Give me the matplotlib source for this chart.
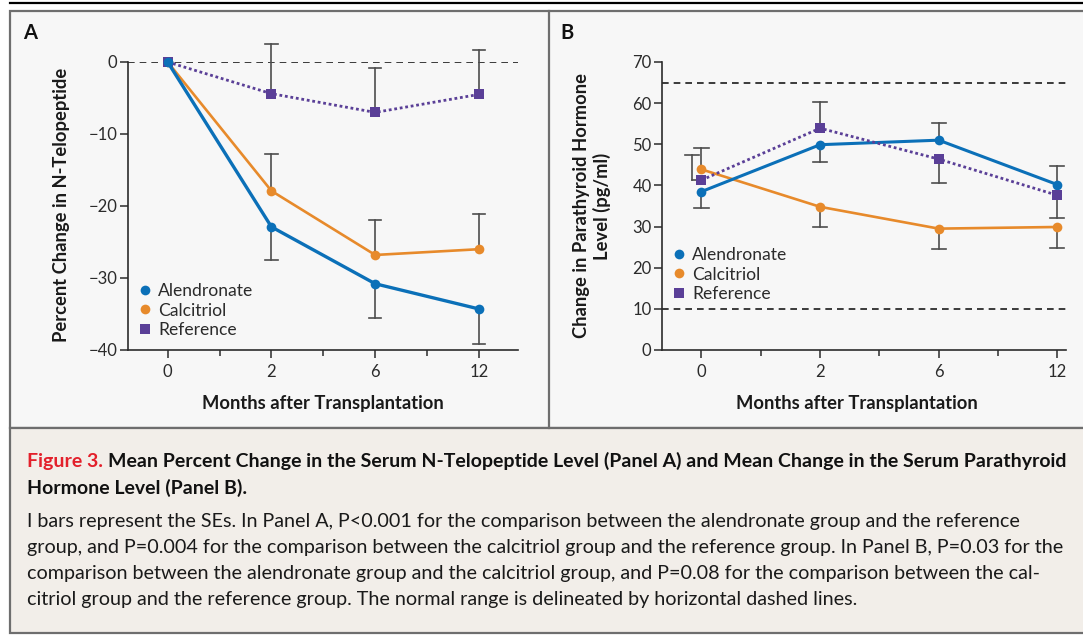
import matplotlib
matplotlib.use("Agg")
import matplotlib.pyplot as plt
from matplotlib.patches import Rectangle
from matplotlib.lines import Line2D

# ---------------- data ----------------
months = ["0", "2", "6", "12"]
series_names = ["Alendronate", "Calcitriol", "Reference"]

# Panel A: percent change in N-telopeptide
a_alendronate = [0.0, -22.9, -30.8, -34.3]
a_alendronate_se = [0.0, 4.6, 4.7, 4.8]
a_alendronate_dir = [0, -1, -1, -1]
a_calcitriol = [0.0, -17.9, -26.8, -26.0]
a_calcitriol_se = [0.0, 5.1, 4.9, 4.9]
a_calcitriol_dir = [0, 1, 1, 1]
a_reference = [0.0, -4.4, -7.0, -4.5]
a_reference_se = [0.0, 6.9, 6.1, 6.2]
a_reference_dir = [0, 1, 1, 1]

# Panel B: change in parathyroid hormone (pg/ml)
b_alendronate = [38.5, 49.9, 51.0, 40.2]
b_alendronate_se = [4.0, 4.1, 4.2, 4.6]
b_alendronate_dir = [-1, -1, 1, 1]
b_calcitriol = [43.9, 34.8, 29.5, 29.9]
b_calcitriol_se = [5.1, 5.0, 4.9, 5.1]
b_calcitriol_dir = [1, -1, -1, -1]
b_reference = [41.3, 53.9, 46.4, 37.6]
b_reference_se = [6.0, 6.4, 5.8, 5.6]
b_reference_dir = [1, 1, -1, -1]

a_yticks = [0, -10, -20, -30, -40]
b_yticks = [0, 10, 20, 30, 40, 50, 60, 70]
b_normal_range = [10, 65]

# ---------------- style ----------------
FONT = ["Lato", "DejaVu Sans"]
plt.rcParams["font.family"] = FONT
BLUE = "#0b70b8"
ORANGE = "#e78a2b"
PURPLE = "#5a3f97"
ERR = "#4d4d4d"
W, H = 1083, 636

fig = plt.figure(figsize=(W / 100, H / 100), dpi=100)
fig.patch.set_facecolor("white")


def fx(px):
    return px / W


def fy(py):
    return 1 - py / H


def rect(x0, y0, x1, y1, **kw):
    r = Rectangle((fx(x0), fy(y1)), fx(x1) - fx(x0), fy(y0) - fy(y1),
                  transform=fig.transFigure, **kw)
    fig.add_artist(r)
    return r


# frame
rect(10, 11, 1090, 428, facecolor="#f7f7f7", edgecolor="#6e6e6e", lw=1.6, zorder=0)
rect(10, 428, 1090, 633, facecolor="#f2eee9", edgecolor="#6e6e6e", lw=1.6, zorder=0)
fig.add_artist(Line2D([fx(549), fx(549)], [fy(11), fy(428)], transform=fig.transFigure,
                      color="#6e6e6e", lw=1.6))
fig.add_artist(Line2D([fx(10), fx(1083)], [fy(3), fy(3)], transform=fig.transFigure,
                      color="black", lw=1.6))


def make_axes(x0, x1, y0, y1):
    ax = fig.add_axes([fx(x0), fy(y1), fx(x1) - fx(x0), fy(y0) - fy(y1)])
    ax.set_facecolor("none")
    for s in ["top", "right"]:
        ax.spines[s].set_visible(False)
    for s in ["left", "bottom"]:
        ax.spines[s].set_color("#2b2b2b")
        ax.spines[s].set_linewidth(1.2)
    ax.tick_params(axis="both", colors="#2b2b2b", labelsize=12, width=1.1,
                   length=6, direction="out")
    ax.tick_params(axis="y", pad=1.5)
    ax.tick_params(axis="x", pad=4)
    ax.tick_params(axis="x", which="minor", length=4.5, width=1.1, colors="#2b2b2b")
    ax.set_xticks(range(len(months)))
    ax.set_xticklabels(months)
    ax.set_xticks([0.5, 1.5, 2.5], minor=True)
    return ax


def draw_series(ax, ys, se, dirs, color, marker, ls, lw, ms, z, x_off=None):
    xs = list(range(len(ys)))
    ax.plot(xs, ys, color=color, lw=lw, ls=ls, marker=marker, ms=ms,
            markeredgewidth=0, zorder=z, clip_on=False)
    for i, (y, e, d) in enumerate(zip(ys, se, dirs)):
        if d == 0 or e == 0:
            continue
        xb = xs[i] + (x_off[i] if x_off else 0)
        yend = y + d * e
        ax.plot([xb, xb], [y, yend], color=ERR, lw=1.2, zorder=2, clip_on=False)
        ax.plot([xb - 0.06, xb + 0.06], [yend, yend], color=ERR, lw=1.2,
                zorder=2, clip_on=False)
        if x_off and x_off[i] != 0:
            ax.plot([xb, xs[i]], [y, y], color=ERR, lw=1.2, zorder=2, clip_on=False)


def legend(ax, anchor):
    handles = [
        Line2D([], [], ls="none", marker="o", ms=7, color=BLUE, markeredgewidth=0),
        Line2D([], [], ls="none", marker="o", ms=7, color=ORANGE, markeredgewidth=0),
        Line2D([], [], ls="none", marker="s", ms=6.5, color=PURPLE, markeredgewidth=0),
    ]
    ax.legend(handles, series_names, loc="upper left", bbox_to_anchor=anchor,
              frameon=False, fontsize=12.6, handlelength=0.6, handletextpad=0.45,
              labelspacing=0.2, borderpad=0, borderaxespad=0,
              labelcolor="#2b2b2b")


# ---------------- Panel A ----------------
axA = make_axes(128, 518, 62, 350)
axA.set_xlim(-0.382, 3.376)
axA.set_ylim(-40, 0)
axA.set_yticks(a_yticks)
axA.set_yticklabels(["0", "\u221210", "\u221220", "\u221230", "\u221240"])
axA.axhline(0, color="#1a1a1a", lw=1.2, ls=(0, (4, 3)), zorder=1)
draw_series(axA, a_calcitriol, a_calcitriol_se, a_calcitriol_dir, ORANGE, "o", "-", 1.9, 7, 4)
draw_series(axA, a_reference, a_reference_se, a_reference_dir, PURPLE, "s", (0, (1, 1)), 2.0, 6.5, 5)
draw_series(axA, a_alendronate, a_alendronate_se, a_alendronate_dir, BLUE, "o", "-", 2.4, 7, 6)
legend(axA, ((140 - 128) / 390, (350 - 283) / 288))

# ---------------- Panel B ----------------
axB = make_axes(662, 1066, 62, 350)
axB.set_xlim(-0.333, 3.073)
axB.set_ylim(0, 70)
axB.set_yticks(b_yticks)
for v in b_normal_range:
    axB.axhline(v, color="#1a1a1a", lw=1.2, ls=(0, (4, 3)), zorder=1)
draw_series(axB, b_calcitriol, b_calcitriol_se, b_calcitriol_dir, ORANGE, "o", "-", 1.9, 7, 4)
draw_series(axB, b_alendronate, b_alendronate_se, b_alendronate_dir, BLUE, "o", "-", 2.2, 7, 5)
draw_series(axB, b_reference, b_reference_se, b_reference_dir, PURPLE, "s", (0, (1, 1)), 2.0, 6.5, 6,
            x_off=[-0.08, 0, 0, 0])
legend(axB, ((674 - 662) / 404, (350 - 247) / 288))

# ---------------- labels ----------------
lab = dict(fontsize=13.2, fontweight="bold", color="#1a1a1a")
fig.text(fx(62), fy(205), "Percent Change in N-Telopeptide", rotation=90,
         ha="center", va="center", **lab)
fig.text(fx(592), fy(206), "Change in Parathyroid Hormone\nLevel (pg/ml)", rotation=90,
         ha="center", va="center", linespacing=1.2, **lab)
fig.text(fx(323), fy(404), "Months after Transplantation", ha="center", va="center", **lab)
fig.text(fx(857), fy(404), "Months after Transplantation", ha="center", va="center", **lab)
fig.text(fx(23), fy(33), "A", ha="left", va="center", fontsize=14.5, fontweight="bold", color="#111")
fig.text(fx(560), fy(33), "B", ha="left", va="center", fontsize=14.5, fontweight="bold", color="#111")

# ---------------- caption ----------------
head_fs = 14.0
body_fs = 14.2
t1 = fig.text(fx(27), fy(467), "Figure 3.", ha="left", va="baseline", fontsize=head_fs,
              fontweight="bold", color="#e3202b")
fig.canvas.draw()
bb = t1.get_window_extent()
fig.text(bb.x1 / W + fx(5), fy(467),
         "Mean Percent Change in the Serum N-Telopeptide Level (Panel A) and Mean Change in the Serum Parathyroid",
         ha="left", va="baseline", fontsize=head_fs, fontweight="bold", color="#111")
fig.text(fx(27), fy(493.5), "Hormone Level (Panel B).", ha="left", va="baseline",
         fontsize=head_fs, fontweight="bold", color="#111")
body = [
    "I bars represent the SEs. In Panel A, P<0.001 for the comparison between the alendronate group and the reference",
    "group, and P=0.004 for the comparison between the calcitriol group and the reference group. In Panel B, P=0.03 for the",
    "comparison between the alendronate group and the calcitriol group, and P=0.08 for the comparison between the cal-",
    "citriol group and the reference group. The normal range is delineated by horizontal dashed lines.",
]
for i, line in enumerate(body):
    fig.text(fx(27), fy(526.5 + 26.3 * i), line, ha="left", va="baseline", fontsize=body_fs,
             color="#1a1a1a")

fig.savefig("out.png", dpi=100, facecolor="white")
